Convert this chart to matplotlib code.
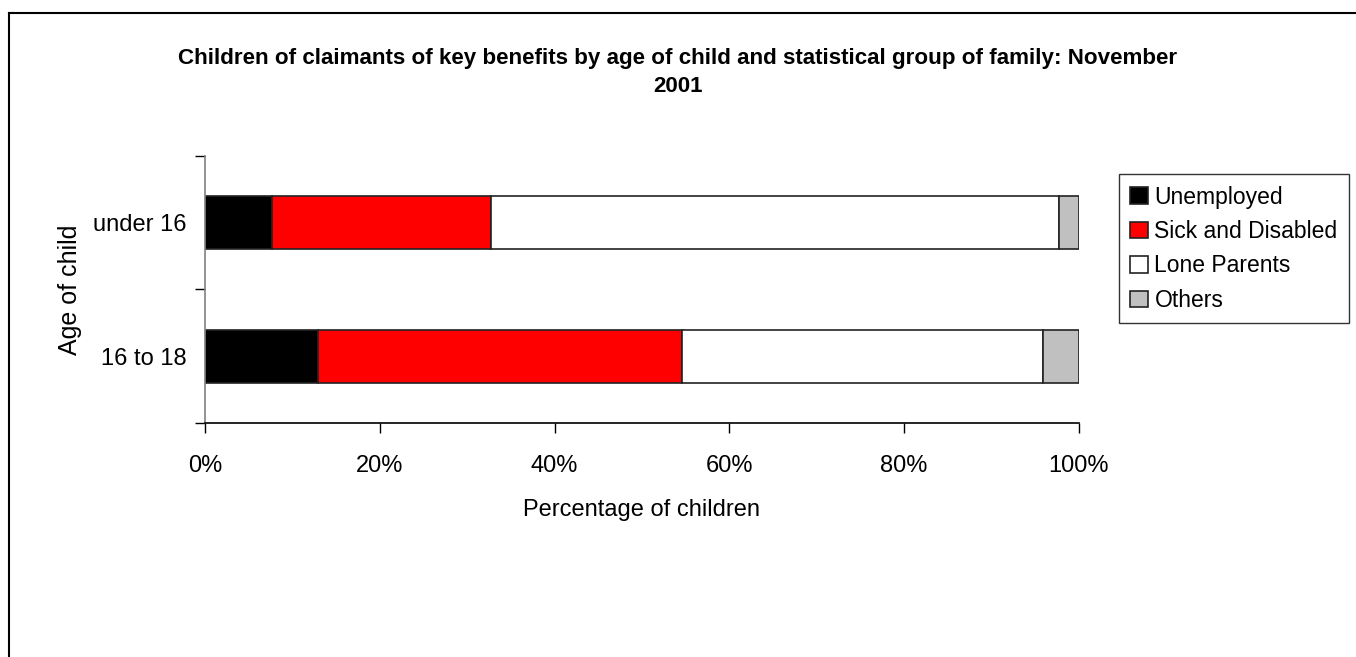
import matplotlib
matplotlib.use("Agg")
import matplotlib.pyplot as plt
from matplotlib.lines import Line2D
from matplotlib.ticker import FixedLocator, PercentFormatter

plt.rcParams['font.family'] = ['Liberation Sans', 'DejaVu Sans']

ages = ['under 16', '16 to 18']
groups = ['Unemployed', 'Sick and Disabled', 'Lone Parents', 'Others']
colors = ['#000000', '#ff0000', '#ffffff', '#c0c0c0']

# percentage of children in each group
unemployed = [7.7, 12.9]
sick_disabled = [25.0, 41.7]
lone_parents = [65.0, 41.3]
others = [2.3, 4.1]
series = [unemployed, sick_disabled, lone_parents, others]

fig = plt.figure(figsize=(13.56, 6.57), dpi=100)
ax = fig.add_axes([0.1512, 0.356, 0.6445, 0.407])

ypos = [1, 0]  # under 16 on top
left = [0.0, 0.0]
for name, vals, col in zip(groups, series, colors):
    ax.barh(ypos, vals, left=left, height=0.4, color=col,
            edgecolor='#222222', linewidth=1.2, label=name)
    left = [l + v for l, v in zip(left, vals)]

ax.set_xlim(0, 100)
ax.set_ylim(-0.5, 1.5)
ax.set_xticks([0, 20, 40, 60, 80, 100])
ax.xaxis.set_major_formatter(PercentFormatter(decimals=0))
ax.set_yticks(ypos)
ax.set_yticklabels(ages)
ax.yaxis.set_minor_locator(FixedLocator([-0.5, 0.5, 1.5]))

ax.tick_params(axis='x', direction='out', length=7, width=1, pad=16,
               labelsize=17, color='black')
ax.tick_params(axis='y', which='major', length=0, pad=13, labelsize=17)
ax.tick_params(axis='y', which='minor', direction='out', length=7, width=1,
               color='black')

for s in ['top', 'right']:
    ax.spines[s].set_visible(False)
ax.spines['left'].set_color('#808080')
ax.spines['left'].set_linewidth(1.2)
ax.spines['bottom'].set_color('black')
ax.spines['bottom'].set_linewidth(1.2)

ax.set_xlabel('Percentage of children', fontsize=17, labelpad=16)
ax.set_ylabel('Age of child', fontsize=18, labelpad=8)

fig.text(0.5, 0.89, 'Children of claimants of key benefits by age of child and statistical group of family: November\n2001',
         ha='center', va='center', fontsize=16.1, fontweight='bold', linespacing=1.45)

leg = ax.legend(loc='upper left', bbox_to_anchor=(0.8252, 0.735), bbox_transform=fig.transFigure,
                fontsize=16.5, frameon=True, fancybox=False, shadow=False,
                handlelength=0.75, handleheight=0.75, handletextpad=0.3,
                labelspacing=0.5, borderpad=0.5, borderaxespad=0)
leg.get_frame().set_edgecolor('black')
leg.get_frame().set_linewidth(1.0)

# outer chart border (runs off right and bottom edges)
fig.add_artist(Line2D([9 / 1356, 9 / 1356], [0, 1 - 12.7 / 657], color='black',
                      linewidth=1.5, transform=fig.transFigure))
fig.add_artist(Line2D([9 / 1356, 1], [1 - 12.7 / 657, 1 - 12.7 / 657], color='black',
                      linewidth=1.5, transform=fig.transFigure))

fig.savefig('out.png', dpi=100)
